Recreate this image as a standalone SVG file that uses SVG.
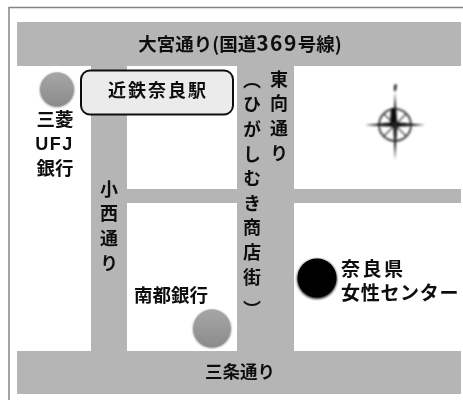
<svg xmlns="http://www.w3.org/2000/svg" width="463" height="400" viewBox="0 0 463 400">
<style>
text{font-family:"Noto Sans CJK JP","Noto Sans",sans-serif;font-weight:700;fill:#111}
.road{fill:#b5b5b5}
.v{font-size:18px;writing-mode:vertical-rl;letter-spacing:6.600px}
.c{text-anchor:middle}
.cl{stroke:#444;fill:none}
</style>
<defs>
<filter id="soft" x="-5%" y="-5%" width="110%" height="110%"><feGaussianBlur stdDeviation="0.5"/></filter>
<filter id="blur" x="-20%" y="-20%" width="140%" height="140%"><feGaussianBlur stdDeviation="0.8"/></filter>
<filter id="sh" x="-30%" y="-30%" width="160%" height="160%"><feGaussianBlur stdDeviation="1"/></filter>
<linearGradient id="gr" x1="0" y1="0" x2="0" y2="1"><stop offset="0" stop-color="#a6a6a6"/><stop offset="1" stop-color="#8c8c8c"/></linearGradient>
</defs>
<rect width="463" height="400" fill="#fff"/>
<path d="M9 400V7.500H463" fill="none" stroke="#858585" stroke-width="1.500"/>
<g filter="url(#soft)">
<g id="roads">
<rect class="road" x="17" y="22" width="444" height="44"/>
<rect class="road" x="17" y="351" width="444" height="43"/>
<rect class="road" x="91" y="66" width="36" height="285"/>
<rect class="road" x="237" y="66" width="57" height="285"/>
<rect class="road" x="127" y="189" width="334" height="14"/>
</g>
<g id="road-labels">
<text class="c" font-size="18.500" x="240" y="51">大宮通り(国道<tspan font-size="21" letter-spacing="1.500">369</tspan>号線)</text>
<text class="c" font-size="17.500" x="240" y="378">三条通り</text>
<text class="v" x="279" y="70">東向通り</text>
<text class="v" x="252" y="71">（ひがしむき商店<tspan letter-spacing="14">街</tspan>）</text>
<text class="v" x="109" y="180">小西通り</text>
</g>
<g id="station">
<rect x="81" y="70.500" width="152" height="44" rx="9" fill="#ebebeb" stroke="#111" stroke-width="2"/>
<text class="c" font-size="18" x="158" y="97" letter-spacing="2">近鉄奈良駅</text>
</g>
<g id="mufg">
<circle cx="57" cy="90" r="17" fill="#777" filter="url(#sh)"/>
<circle cx="57" cy="89" r="16.500" fill="url(#gr)"/>
<text class="c" font-size="18.500" x="55" y="126">三菱</text>
<text class="c" font-size="18" x="54.500" y="150" style="font-family:'Liberation Sans'" letter-spacing="1.500">UFJ</text>
<text class="c" font-size="18.500" x="55" y="175">銀行</text>
</g>
<g id="nanto">
<text class="c" font-size="18.500" x="171" y="302">南都銀行</text>
<circle cx="212" cy="329" r="19" fill="#777" filter="url(#sh)"/>
<circle cx="212" cy="328" r="18.500" fill="url(#gr)"/>
</g>
<g id="center">
<circle cx="317" cy="279" r="20" fill="#222" filter="url(#sh)"/>
<circle cx="317" cy="278" r="19.500" fill="#000"/>
<text font-size="19"><tspan x="341" y="276" letter-spacing="2.500">奈良県</tspan><tspan x="341" y="300" letter-spacing="0.700">女性センター</tspan></text>
</g>
<g id="compass" filter="url(#blur)">
<circle class="cl" cx="395" cy="125" r="16" stroke-width="2"/>
<path class="cl" stroke-width="1.400" d="M384 114L406 136M406 114L384 136"/>
<path fill="#111" d="M365 125L395 122L425 125L395 127Z"/>
<path fill="#222" d="M395 92L397.500 125L395 160L393 125Z"/>
<path fill="#111" d="M391 108L396 108L396 123L390 122Z"/>
<path fill="#222" d="M394 85L397 84L396 91L394 91Z"/>
</g>
</g>
</svg>
